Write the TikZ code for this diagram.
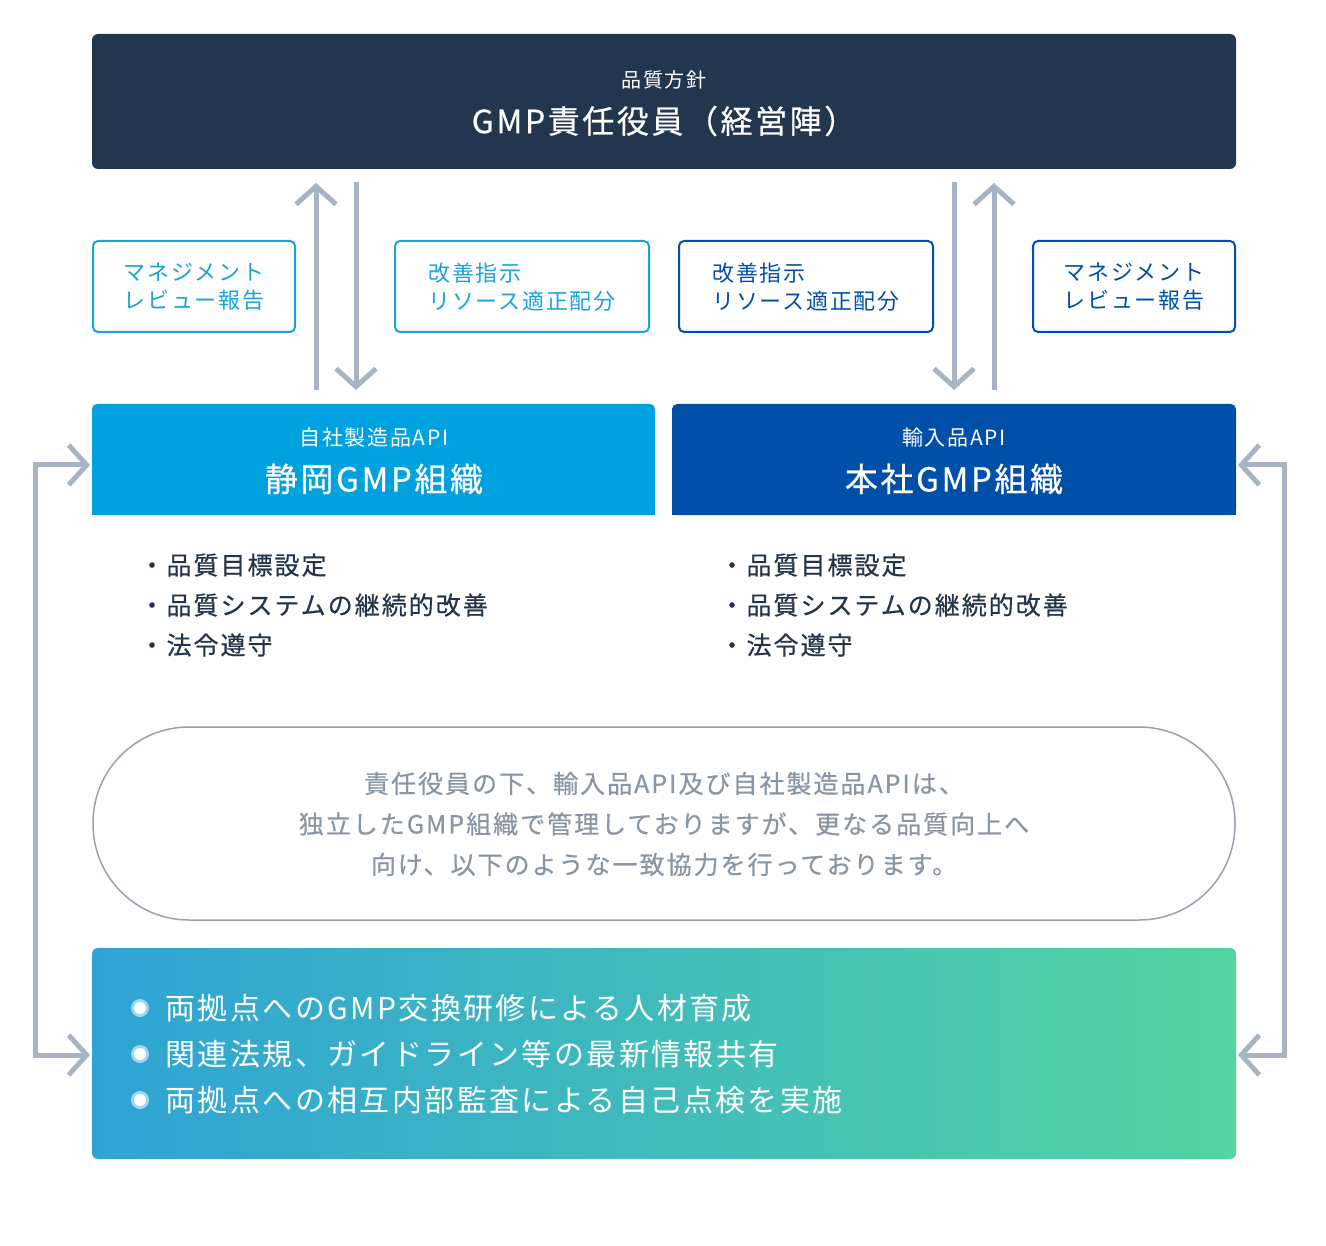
\documentclass[tikz,border=0pt]{standalone}
\usepackage{fontspec}
\setmainfont{Noto Sans CJK JP}
\newfontfamily\jpa[LetterSpace=8]{Noto Sans CJK JP}
\newfontfamily\jpb[LetterSpace=8,FakeBold=0.6]{Noto Sans CJK JP}
\usetikzlibrary{arrows.meta}
\definecolor{navy}{HTML}{233650}
\definecolor{sky}{HTML}{00A1DF}
\definecolor{dblue}{HTML}{0050AA}
\definecolor{agray}{HTML}{A9B4C2}
\definecolor{lb}{HTML}{1AA3DB}
\definecolor{tx}{HTML}{24344A}
\definecolor{gt}{HTML}{8A96A3}
\definecolor{gl}{HTML}{2FA3D6}
\definecolor{gr}{HTML}{53D4A0}
\begin{document}
\begin{tikzpicture}[x=1pt,y=-1pt,
 arr/.style={draw=agray,line width=5pt,-{Straight Barb[length=18pt,width=40pt,line width=5pt]}},
 arr2/.style={draw=agray,line width=5pt,{Straight Barb[length=18pt,width=40pt,line width=5pt]}-{Straight Barb[length=18pt,width=40pt,line width=5pt]}},
 labt/.style={align=left,font=\jpa\fontsize{22}{28}\selectfont}]
\useasboundingbox (0,0) rectangle (1326,1246);
\node[fill=navy,rounded corners=6pt,minimum width=1144pt,minimum height=135pt] (top) at (664,101.5) {};
\node[white,font=\jpa\fontsize{20}{24}\selectfont] (t1) at (664,80) {品質方針};
\node[white,font=\jpb\fontsize{32}{36}\selectfont] (t2) at (664,121) {GMP責任役員（経営陣）};
% label boxes
\draw[lb,line width=2pt,rounded corners=5pt] (93,241) rectangle (295,332);
\node[lb,labt] (m1) at (194,287) {マネジメント\\レビュー報告};
\draw[lb,line width=2pt,rounded corners=5pt] (395,241) rectangle (649,332);
\node[lb,labt] (k1) at (522,287) {改善指示\\リソース適正配分};
\draw[dblue,line width=2pt,rounded corners=5pt] (679,241) rectangle (933,332);
\node[dblue,labt] (k2) at (806,287) {改善指示\\リソース適正配分};
\draw[dblue,line width=2pt,rounded corners=5pt] (1033,241) rectangle (1235,332);
\node[dblue,labt] (m2) at (1134,287) {マネジメント\\レビュー報告};
% arrows
\coordinate (a1s) at (316,390); \coordinate (a1e) at (316,183);
\coordinate (a2s) at (356,182); \coordinate (a2e) at (356,390);
\coordinate (a3s) at (954,182); \coordinate (a3e) at (954,390);
\coordinate (a4s) at (994,390); \coordinate (a4e) at (994,183);
\draw[arr] (a1s)--(a1e); \draw[arr] (a2s)--(a2e);
\draw[arr] (a3s)--(a3e); \draw[arr] (a4s)--(a4e);
% org boxes
\fill[sky,rounded corners=5pt] (92,515) -- (92,404) -- (655,404) -- (655,515) -- cycle;
\fill[sky] (92,470) rectangle (655,515);
\fill[dblue,rounded corners=5pt] (672,515) -- (672,404) -- (1236,404) -- (1236,515) -- cycle;
\fill[dblue] (672,470) rectangle (1236,515);
\node[white,font=\jpa\fontsize{21}{24}\selectfont] (s1) at (374,438) {自社製造品API};
\node[white,font=\jpb\fontsize{33}{36}\selectfont] (s2) at (374,479) {静岡GMP組織};
\node[white,font=\jpa\fontsize{21}{24}\selectfont] (h1) at (954,438) {輸入品API};
\node[white,font=\jpb\fontsize{33}{36}\selectfont] (h2) at (954,479) {本社GMP組織};
% bullets
\node[tx,anchor=north west,align=left,font=\jpb\fontsize{25}{40}\selectfont] (b1) at (136,550) {・品質目標設定\\・品質システムの継続的改善\\・法令遵守};
\node[tx,anchor=north west,align=left,font=\jpb\fontsize{25}{40}\selectfont] (b2) at (716,550) {・品質目標設定\\・品質システムの継続的改善\\・法令遵守};
% stadium
\draw[agray!90!black,line width=1.5pt,rounded corners=96pt] (93,727) rectangle (1235,920);
\node[gt,align=center,font=\jpb\fontsize{25}{40.5}\selectfont] (st) at (664,824) {責任役員の下、輸入品API及び自社製造品APIは、\\独立したGMP組織で管理しておりますが、更なる品質向上へ\\向け、以下のような一致協力を行っております。};
% gradient box
\shade[left color=gl,right color=gr,rounded corners=6pt] (92,948) rectangle (1236,1159);
\foreach \y in {1008,1054,1100}{
 \fill[white!60!sky] (140,\y) circle (9pt);
 \fill[white] (140,\y) circle (6pt);}
\node[white,anchor=west,align=left,font=\jpa\fontsize{30}{46}\selectfont] (g) at (162,1054) {両拠点へのGMP交換研修による人材育成\\関連法規、ガイドライン等の最新情報共有\\両拠点への相互内部監査による自己点検を実施};
% loops
\coordinate (l1) at (92,465); \coordinate (l2) at (92,1055);
\coordinate (r1) at (1236,465); \coordinate (r2) at (1236,1055);
\draw[arr2] ([xshift=-2pt]l1) -| (35,760) |- ([xshift=-2pt]l2);
\draw[arr2] ([xshift=2pt]r1) -| (1284,760) |- ([xshift=2pt]r2);
\end{tikzpicture}
\end{document}
